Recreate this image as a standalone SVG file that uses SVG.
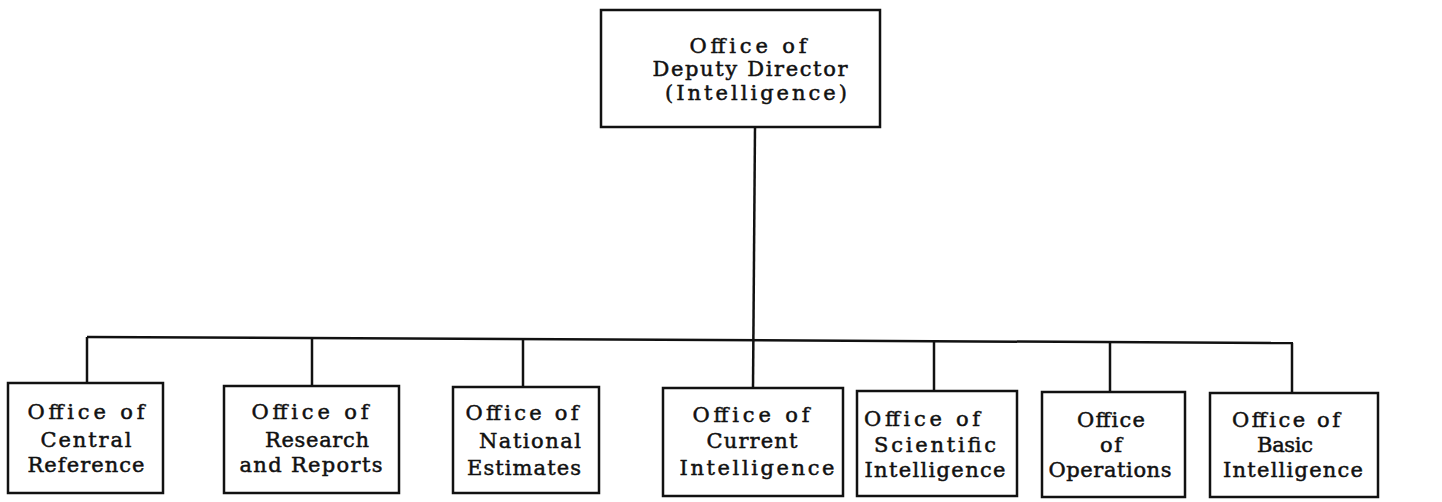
<svg xmlns="http://www.w3.org/2000/svg" width="1442" height="502" viewBox="0 0 1442 502">
<style>
.box{fill:#fff;stroke:#111;stroke-width:2.5}
.ln{fill:none;stroke:#111;stroke-width:2.5}
text{font-family:"DejaVu Serif","Liberation Serif",serif;font-size:21px;fill:#111;stroke:#111;stroke-width:0.5;text-anchor:middle}
</style>
<rect width="1442" height="502" fill="#fff"/>
<g id="connectors">
<line class="ln" x1="755" y1="127" x2="753" y2="388"/>
<line class="ln" x1="87" y1="337" x2="1293" y2="343"/>
<line class="ln" x1="87" y1="337" x2="87" y2="383"/>
<line class="ln" x1="312" y1="338" x2="312" y2="386"/>
<line class="ln" x1="523" y1="340" x2="523" y2="387"/>
<line class="ln" x1="934" y1="342" x2="934" y2="391"/>
<line class="ln" x1="1110" y1="342" x2="1110" y2="392"/>
<line class="ln" x1="1292" y1="343" x2="1292" y2="393"/>
</g>
<g id="deputy-director">
<rect class="box" x="601" y="10" width="279" height="117"/>
<text x="748" y="53" textLength="117" lengthAdjust="spacing">Office of</text>
<text x="750" y="76" textLength="195" lengthAdjust="spacing">Deputy Director</text>
<text x="756" y="100" textLength="182" lengthAdjust="spacing">(Intelligence)</text>
</g>
<g id="central-reference">
<rect class="box" x="8" y="383" width="155" height="110"/>
<text x="86" y="419" textLength="117" lengthAdjust="spacing">Office of</text>
<text x="86" y="447" textLength="91" lengthAdjust="spacing">Central</text>
<text x="86" y="472" textLength="117" lengthAdjust="spacing">Reference</text>
</g>
<g id="research-reports">
<rect class="box" x="224" y="386" width="175" height="107"/>
<text x="310" y="419" textLength="117" lengthAdjust="spacing">Office of</text>
<text x="317" y="447" textLength="104" lengthAdjust="spacing">Research</text>
<text x="311" y="472" textLength="143" lengthAdjust="spacing">and Reports</text>
</g>
<g id="national-estimates">
<rect class="box" x="453" y="387" width="146" height="106"/>
<text x="522" y="420" textLength="113" lengthAdjust="spacing">Office of</text>
<text x="530" y="448" textLength="102" lengthAdjust="spacing">National</text>
<text x="524" y="475" textLength="114" lengthAdjust="spacing">Estimates</text>
</g>
<g id="current-intelligence">
<rect class="box" x="663" y="388" width="180" height="108"/>
<text x="751" y="422" textLength="117" lengthAdjust="spacing">Office of</text>
<text x="752" y="448" textLength="91" lengthAdjust="spacing">Current</text>
<text x="757" y="475" textLength="155" lengthAdjust="spacing">Intelligence</text>
</g>
<g id="scientific-intelligence">
<rect class="box" x="857" y="391" width="160" height="105"/>
<text x="922" y="426" textLength="116" lengthAdjust="spacing">Office of</text>
<text x="935" y="452" textLength="122" lengthAdjust="spacing">Scientific</text>
<text x="935" y="477" textLength="141" lengthAdjust="spacing">Intelligence</text>
</g>
<g id="operations">
<rect class="box" x="1042" y="392" width="143" height="105"/>
<text x="1111" y="427" textLength="68" lengthAdjust="spacing">Office</text>
<text x="1111" y="452" textLength="22" lengthAdjust="spacing">of</text>
<text x="1110" y="477" textLength="123" lengthAdjust="spacing">Operations</text>
</g>
<g id="basic-intelligence">
<rect class="box" x="1210" y="393" width="168" height="104"/>
<text x="1286" y="427" textLength="108" lengthAdjust="spacing">Office of</text>
<text x="1285" y="452" textLength="56" lengthAdjust="spacing">Basic</text>
<text x="1293" y="477" textLength="140" lengthAdjust="spacing">Intelligence</text>
</g>
</svg>
